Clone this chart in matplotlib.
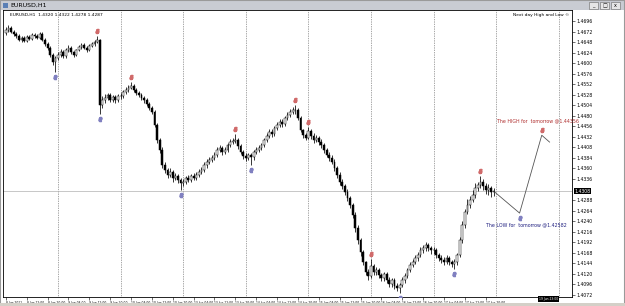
import numpy as np
import matplotlib.pyplot as plt
from matplotlib.patches import Rectangle
import matplotlib.transforms as mtransforms

# EURUSD H1, bar 0 = 8 Jun 2011 04:00
first_open = 1.4669
closes = [
    # 8 Jun
    1.4676, 1.4680, 1.4671, 1.4666, 1.4662, 1.4653, 1.4657, 1.4651, 1.4660, 1.4655,
    1.4664, 1.4662, 1.4657, 1.4666, 1.4653, 1.4644, 1.4635, 1.4619, 1.4603, 1.4612,
    # 9 Jun
    1.4619, 1.4625, 1.4616, 1.4630, 1.4635, 1.4625, 1.4619, 1.4630, 1.4637, 1.4641,
    1.4635, 1.4630, 1.4639, 1.4644, 1.4648, 1.4653, 1.4505, 1.4516, 1.4521, 1.4527,
    1.4516, 1.4523, 1.4516, 1.4525,
    # 10 Jun
    1.4525, 1.4534, 1.4539, 1.4543, 1.4548, 1.4539, 1.4532, 1.4527, 1.4521, 1.4516,
    1.4507, 1.4498, 1.4489, 1.4459, 1.4425, 1.4402, 1.4368, 1.4356, 1.4345, 1.4352,
    1.4338, 1.4343, 1.4334, 1.4327,
    # 13 Jun
    1.4329, 1.4338, 1.4334, 1.4343, 1.4338, 1.4345, 1.4352, 1.4356, 1.4368, 1.4375,
    1.4379, 1.4384, 1.4391, 1.4402, 1.4407, 1.4397, 1.4402, 1.4413, 1.4420, 1.4422,
    1.4425, 1.4411, 1.4397, 1.4388,
    # 14 Jun
    1.4384, 1.4391, 1.4386, 1.4397, 1.4402, 1.4407, 1.4413, 1.4425, 1.4434, 1.4443,
    1.4438, 1.4452, 1.4459, 1.4466, 1.4461, 1.4475, 1.4482, 1.4489, 1.4493, 1.4493,
    1.4475, 1.4447, 1.4436, 1.4430,
    # 15 Jun
    1.4446, 1.4434, 1.4425, 1.4429, 1.4420, 1.4413, 1.4402, 1.4391, 1.4384, 1.4375,
    1.4361, 1.4345, 1.4329, 1.4320, 1.4306, 1.4293, 1.4277, 1.4254, 1.4224, 1.4197,
    1.4169, 1.4147, 1.4124, 1.4115,
    # 16 Jun
    1.4137, 1.4124, 1.4128, 1.4117, 1.4110, 1.4119, 1.4106, 1.4096, 1.4106, 1.4092,
    1.4087, 1.4094, 1.4106, 1.4115, 1.4128, 1.4140, 1.4147, 1.4156, 1.4163, 1.4174,
    1.4179, 1.4185, 1.4179, 1.4174,
    # 17 Jun
    1.4174, 1.4163, 1.4156, 1.4151, 1.4147, 1.4156, 1.4147, 1.4142, 1.4147, 1.4163,
    1.4197, 1.4231, 1.4261, 1.4277, 1.4288, 1.4299, 1.4315, 1.4322, 1.4329, 1.4320,
    1.4311, 1.4315, 1.4306, 1.4308,
]
highs = [
    1.4683, 1.4687, 1.4685, 1.4675, 1.4670, 1.4667, 1.4662, 1.4661, 1.4664, 1.4665,
    1.4669, 1.4668, 1.4666, 1.4670, 1.4671, 1.4657, 1.4648, 1.4639, 1.4622, 1.4616,
    1.4626, 1.4631, 1.4629, 1.4634, 1.4641, 1.4639, 1.4628, 1.4633, 1.4642, 1.4646,
    1.4645, 1.4639, 1.4643, 1.4648, 1.4652, 1.4662, 1.4656, 1.4524, 1.4530, 1.4533,
    1.4531, 1.4528, 1.4527, 1.4530,
    1.4531, 1.4538, 1.4545, 1.4550, 1.4557, 1.4552, 1.4544, 1.4537, 1.4531, 1.4526,
    1.4520, 1.4511, 1.4503, 1.4493, 1.4464, 1.4430, 1.4408, 1.4375, 1.4362, 1.4360,
    1.4357, 1.4349, 1.4348, 1.4339,
    1.4336, 1.4343, 1.4344, 1.4348, 1.4349, 1.4351, 1.4358, 1.4363, 1.4374, 1.4381,
    1.4386, 1.4390, 1.4397, 1.4408, 1.4414, 1.4411, 1.4409, 1.4418, 1.4426, 1.4429,
    1.4438, 1.4430, 1.4416, 1.4402,
    1.4395, 1.4396, 1.4395, 1.4402, 1.4408, 1.4413, 1.4419, 1.4430, 1.4440, 1.4449,
    1.4450, 1.4457, 1.4465, 1.4472, 1.4473, 1.4480, 1.4488, 1.4495, 1.4499, 1.4505,
    1.4497, 1.4480, 1.4449, 1.4440,
    1.4455, 1.4450, 1.4440, 1.4436, 1.4433, 1.4426, 1.4418, 1.4407, 1.4397, 1.4390,
    1.4381, 1.4366, 1.4352, 1.4336, 1.4325, 1.4312, 1.4298, 1.4282, 1.4260, 1.4230,
    1.4202, 1.4174, 1.4150, 1.4130,
    1.4153, 1.4143, 1.4135, 1.4133, 1.4122, 1.4125, 1.4124, 1.4112, 1.4111, 1.4110,
    1.4098, 1.4100, 1.4112, 1.4121, 1.4133, 1.4146, 1.4153, 1.4162, 1.4170, 1.4180,
    1.4186, 1.4192, 1.4190, 1.4184,
    1.4182, 1.4178, 1.4168, 1.4162, 1.4158, 1.4162, 1.4160, 1.4152, 1.4153, 1.4168,
    1.4203, 1.4240, 1.4268, 1.4290, 1.4298, 1.4310, 1.4326, 1.4330, 1.4343, 1.4335,
    1.4327, 1.4324, 1.4320, 1.4316,
]
lows = [
    1.4665, 1.4672, 1.4668, 1.4662, 1.4658, 1.4650, 1.4648, 1.4647, 1.4648, 1.4652,
    1.4652, 1.4658, 1.4654, 1.4654, 1.4650, 1.4640, 1.4630, 1.4614, 1.4596, 1.4580,
    1.4608, 1.4615, 1.4612, 1.4612, 1.4626, 1.4621, 1.4614, 1.4616, 1.4627, 1.4633,
    1.4631, 1.4626, 1.4627, 1.4636, 1.4640, 1.4645, 1.4484, 1.4498, 1.4510, 1.4515,
    1.4511, 1.4512, 1.4510, 1.4512,
    1.4518, 1.4520, 1.4530, 1.4535, 1.4540, 1.4535, 1.4528, 1.4522, 1.4516, 1.4510,
    1.4502, 1.4494, 1.4483, 1.4454, 1.4418, 1.4395, 1.4362, 1.4350, 1.4338, 1.4341,
    1.4330, 1.4334, 1.4327, 1.4311,
    1.4320, 1.4325, 1.4328, 1.4330, 1.4333, 1.4334, 1.4340, 1.4347, 1.4351, 1.4362,
    1.4370, 1.4374, 1.4379, 1.4386, 1.4398, 1.4391, 1.4392, 1.4398, 1.4408, 1.4415,
    1.4417, 1.4405, 1.4392, 1.4382,
    1.4377, 1.4379, 1.4368, 1.4380, 1.4392, 1.4397, 1.4402, 1.4408, 1.4420, 1.4429,
    1.4432, 1.4433, 1.4447, 1.4454, 1.4455, 1.4457, 1.4470, 1.4477, 1.4484, 1.4485,
    1.4470, 1.4442, 1.4430, 1.4424,
    1.4426, 1.4428, 1.4418, 1.4420, 1.4414, 1.4407, 1.4396, 1.4385, 1.4378, 1.4369,
    1.4355, 1.4338, 1.4322, 1.4313, 1.4300, 1.4286, 1.4270, 1.4246, 1.4216, 1.4188,
    1.4160, 1.4139, 1.4116, 1.4106,
    1.4110, 1.4118, 1.4118, 1.4110, 1.4104, 1.4104, 1.4100, 1.4090, 1.4090, 1.4086,
    1.4080, 1.4076, 1.4090, 1.4100, 1.4110, 1.4124, 1.4136, 1.4142, 1.4150, 1.4158,
    1.4168, 1.4172, 1.4172, 1.4165,
    1.4166, 1.4157, 1.4150, 1.4145, 1.4140, 1.4142, 1.4140, 1.4136, 1.4130, 1.4140,
    1.4158, 1.4190, 1.4225, 1.4255, 1.4270, 1.4284, 1.4292, 1.4308, 1.4315, 1.4310,
    1.4302, 1.4300, 1.4296, 1.4298,
]
opens = [first_open] + closes[:-1]

# fractal bars
up_fractals = [35, 48, 88, 111, 116, 140, 182]
down_fractals = [19, 36, 67, 94, 151, 172]

# next day projection
proj_bars = [187.5, 197, 205.5, 208.5]
proj_prices = [1.4306, 1.42582, 1.44356, 1.4420]
next_high = 1.44356
next_low = 1.42582

time_ticks = list(range(0, 185, 8))
time_labels = ["8 Jun 2011", "8 Jun 12:00", "8 Jun 20:00", "9 Jun 04:00", "9 Jun 12:00",
               "9 Jun 20:00", "10 Jun 04:00", "10 Jun 12:00", "10 Jun 20:00", "13 Jun 04:00",
               "13 Jun 12:00", "13 Jun 20:00", "14 Jun 04:00", "14 Jun 12:00", "14 Jun 20:00",
               "15 Jun 04:00", "15 Jun 12:00", "15 Jun 20:00", "16 Jun 04:00", "16 Jun 12:00",
               "16 Jun 20:00", "17 Jun 04:00", "17 Jun 12:00", "17 Jun 20:00"]
day_starts = [20, 44, 68, 92, 116, 140, 164, 188, 212]
price_ticks = [1.4072, 1.4096, 1.4120, 1.4144, 1.4168, 1.4192, 1.4216, 1.4240, 1.4264,
               1.4288, 1.4336, 1.4360, 1.4384, 1.4408, 1.4432, 1.4456, 1.4480,
               1.4504, 1.4528, 1.4552, 1.4576, 1.4600, 1.4624, 1.4648, 1.4672, 1.4696]

plt.rcParams['font.family'] = ['Liberation Sans Narrow', 'DejaVu Sans']

W, H = 625, 306
fig = plt.figure(figsize=(W / 100, H / 100), dpi=100, facecolor='white')

# window title bar and frame
fig.patches.append(Rectangle((0, 1 - 10 / H), 1, 10 / H, transform=fig.transFigure,
                             facecolor='#c9ccd3', edgecolor='none'))
fig.patches.append(Rectangle((0, 0), 1, 1, transform=fig.transFigure,
                             facecolor='none', edgecolor='#9a9a9a', lw=1.5))
fig.patches.append(Rectangle((0, 0), 1, 3 / H, transform=fig.transFigure,
                             facecolor='#d4d0c8', edgecolor='none'))
fig.text(10 / W, 1 - 5 / H, "EURUSD,H1", fontsize=4.5, va='center', ha='left', color='black')
fig.patches.append(Rectangle((3 / W, 1 - 8 / H), 5 / W, 5 / H, transform=fig.transFigure,
                             facecolor='#5a7fb5', edgecolor='none'))
for k, sym in enumerate(["_", "\u25a1", "x"]):
    x0 = (589 + k * 11) / W
    fig.patches.append(Rectangle((x0, 1 - 9 / H), 9 / W, 7 / H, transform=fig.transFigure,
                                 facecolor='#e6e6e6', edgecolor='#666666', lw=0.4))
    fig.text(x0 + 4.5 / W, 1 - 5.5 / H, sym, fontsize=3.5, ha='center', va='center',
             family='DejaVu Sans')

ax = fig.add_axes([3 / W, 1 - 297 / H, 569 / W, 287 / H])
ax.set_facecolor('white')
ax.set_xlim(-1.1, 217.1)
ax.set_ylim(1.4067, 1.4721)

bars = np.arange(len(closes))
opens = np.array(opens)
closes_a = np.array(closes)

# period separators
for d in day_starts:
    ax.axvline(d, color='#505050', lw=0.5, ls=(0, (1, 1.5)), zorder=1)

# bid line
ax.axhline(closes[-1], color='#b0b0b0', lw=0.5, zorder=1)

# candles
ax.vlines(bars, lows, highs, color='black', lw=0.55, zorder=2)
bull = closes_a >= opens
bottoms = np.minimum(opens, closes_a)
heights = np.maximum(np.abs(closes_a - opens), 0.00004)
ax.bar(bars[bull], heights[bull], bottom=bottoms[bull], width=0.7,
       facecolor='white', edgecolor='black', lw=0.35, zorder=3)
ax.bar(bars[~bull], heights[~bull], bottom=bottoms[~bull], width=0.7,
       facecolor='black', edgecolor='black', lw=0.35, zorder=3)

# fractal markers
up_off = mtransforms.offset_copy(ax.transData, fig=fig, x=0, y=3.5, units='points')
dn_off = mtransforms.offset_copy(ax.transData, fig=fig, x=0, y=-3.5, units='points')
ax.plot(up_fractals, [highs[i] for i in up_fractals], ls='none', marker=r'$\delta$',
        ms=3, color='#d06a6a', transform=up_off, zorder=4)
ax.plot(down_fractals, [lows[i] for i in down_fractals], ls='none', marker=r'$\varrho$',
        ms=3, color='#8080c0', transform=dn_off, zorder=4)

# projection zigzag
ax.plot(proj_bars, proj_prices, color='#555555', lw=0.6, zorder=4)
ax.plot([proj_bars[2]], [next_high], ls='none', marker=r'$\delta$', ms=3,
        color='#d06a6a', transform=up_off)
ax.plot([proj_bars[1]], [next_low], ls='none', marker=r'$\varrho$', ms=3,
        color='#8080c0', transform=dn_off)
ax.text(188.5, 1.4468, "The HIGH for  tomorrow @%.5f" % next_high, fontsize=3.4,
        color='#b03030', va='center', ha='left')
ax.text(184.2, 1.4231, "The LOW for  tomorrow @%.5f" % next_low, fontsize=3.4,
        color='#202080', va='center', ha='left')

# chart info texts
ax.text(0.012, 0.99, "EURUSD,H1  1.4320 1.4322 1.4278 1.4287", transform=ax.transAxes,
        fontsize=3.2, va='top', ha='left')
ax.text(0.995, 0.99, "Next day High and Low \u00a9", transform=ax.transAxes,
        fontsize=3.2, va='top', ha='right')

# axes
ax.yaxis.tick_right()
ax.set_yticks(price_ticks)
ax.set_yticklabels(["%.4f" % p for p in price_ticks])
ax.tick_params(axis='y', length=2, width=0.4, pad=1.5, labelsize=3.3)
ax.set_xticks(time_ticks)
ax.set_xticklabels(time_labels, ha='left')
ax.tick_params(axis='x', length=2, width=0.4, pad=0.8, labelsize=2.2)
for s in ax.spines.values():
    s.set_linewidth(0.6)

# current price label on price axis
ax.text(1.004, closes[-1], "%.4f" % closes[-1], transform=ax.get_yaxis_transform(),
        fontsize=3.3, color='white', va='center', ha='left',
        bbox=dict(boxstyle='square,pad=0.15', facecolor='black', edgecolor='none'),
        clip_on=False, zorder=6)
# time marker on time axis
ax.text(208, 1.4067, "19 Jun 23:00", fontsize=2.2, color='white', va='top', ha='center',
        bbox=dict(boxstyle='square,pad=0.3', facecolor='black', edgecolor='none'),
        clip_on=False, zorder=6)

fig.savefig('out.png', dpi=100, facecolor=fig.get_facecolor())
